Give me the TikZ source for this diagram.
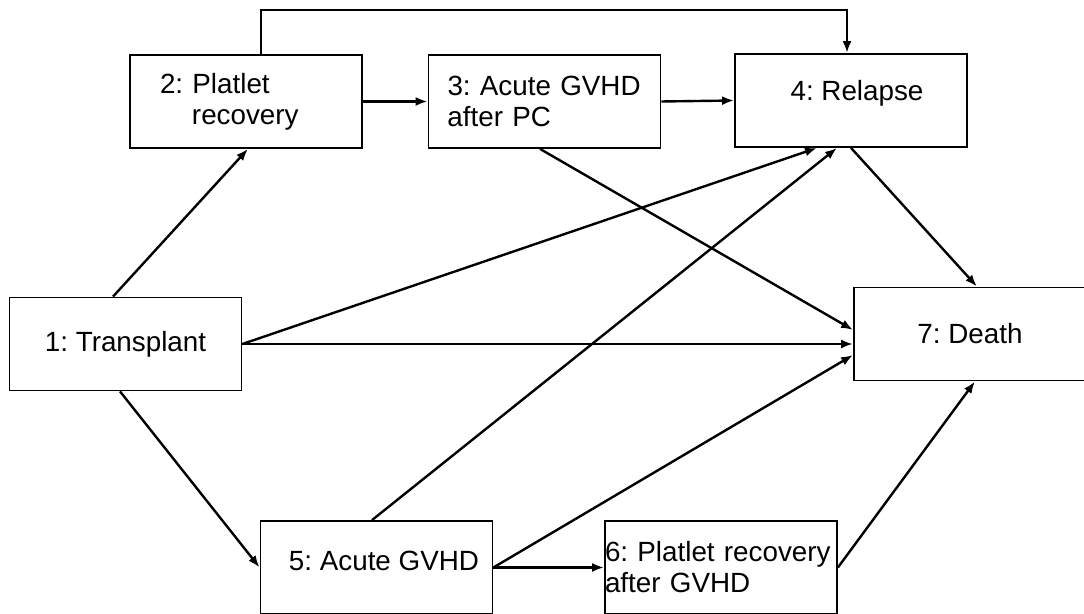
\documentclass[tikz,border=0pt]{standalone}
\usepackage{fontspec}
\setmainfont{Liberation Sans}
\usetikzlibrary{arrows.meta}
\frenchspacing

\begin{document}
\begin{tikzpicture}[x=0.5pt, y=-0.5pt,
  state/.style={draw, line width=0.9pt, minimum width=116pt, minimum height=46.5pt, inner sep=0pt, font=\fontsize{13.9}{15.5}\selectfont},
  trans/.style={line width=1.2pt, -{Latex[length=6pt, width=4.5pt]}}]
  \useasboundingbox (0,0) rectangle (1084,614);
  \node[state] (transplant) at (125.5,344) {1: Transplant};
  \node[state, text width=116pt, align=left] (platelet) at (246,101.5) {\hspace*{15pt}2: Platlet\\\hspace*{31pt}recovery};
  \node[state, text width=116pt, align=left] (gvhdpc) at (544.5,101.5) {\hspace*{9.5pt}3: Acute GVHD\\\hspace*{9.5pt}after PC};
  \node[state] (relapse) at (851,100.5) {\raisebox{3.5pt}[\height][\depth]{\hspace*{6pt}4: Relapse}};
  \node[state] (gvhd) at (376.5,567.5) {\raisebox{3.5pt}[\height][\depth]{\hspace*{7.5pt}5: Acute GVHD}};
  \node[state, text width=116pt, align=left] (gvhdplatelet) at (721,567.5) {6: Platlet recovery\\after GVHD};
  \node[state] (death) at (970,334) {7: Death};
  \coordinate (detour) at (554,10);

  \draw[trans] ([xshift=-6.25pt]transplant.north) -- ([xshift=1pt]platelet.south);
  \draw[trans] ([xshift=-2.75pt]transplant.south) -- (gvhd.west);
  \draw[trans] (transplant.east) -- ([xshift=-17pt]relapse.south);
  \draw[trans] (transplant.east) -- ([yshift=-5pt]death.west);
  \draw[trans] (platelet.east) -- (gvhdpc.west);
  \draw[trans] (gvhdpc.east) -- (relapse.west);
  \draw[trans] ([xshift=7.5pt]platelet.north) |- (detour) -| ([xshift=-2pt]relapse.north);
  \draw[trans] ([xshift=-2.25pt]gvhdpc.south) -- ([yshift=2pt]death.west);
  \draw[trans] (relapse.south) -- ([xshift=3.5pt]death.north);
  \draw[trans] ([xshift=-2.25pt]gvhd.north) -- ([xshift=-7pt]relapse.south);
  \draw[trans] (gvhd.east) -- ([yshift=-10.5pt]death.west);
  \draw[trans] (gvhd.east) -- (gvhdplatelet.west);
  \draw[trans] (gvhdplatelet.east) -- ([xshift=2.5pt]death.south);
\end{tikzpicture}
\end{document}
